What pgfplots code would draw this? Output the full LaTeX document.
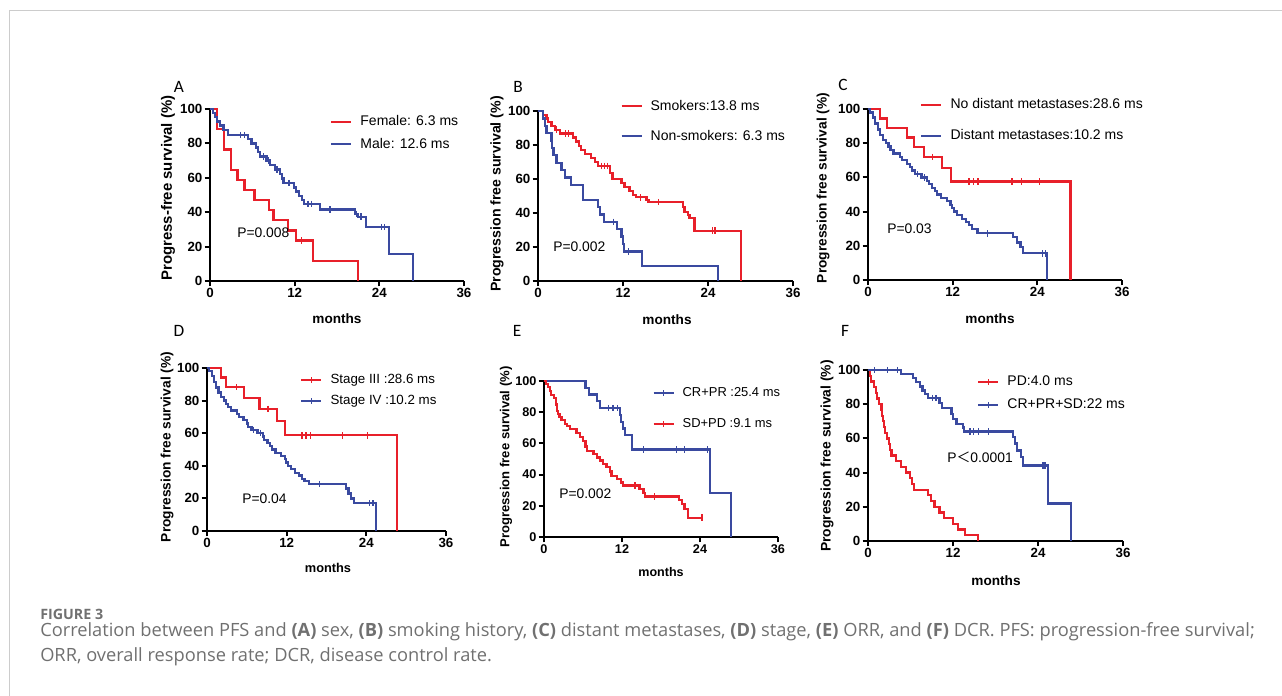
\documentclass[border=0pt]{standalone}
\usepackage{fontspec}
\setmainfont{Liberation Sans}
\newfontfamily\capfont{Open Sans}
\newfontfamily\letterfont{Carlito}
\newfontfamily\cjk{Noto Sans CJK SC}
\usepackage{pgfplots}
\pgfplotsset{compat=1.18}
\definecolor{kmred}{RGB}{232,32,42}
\definecolor{kmblue}{RGB}{58,74,160}
\definecolor{capgray}{RGB}{112,112,112}

\pgfplotsset{
  km/.style={
    scale only axis, axis lines=left, axis line style={-, line width=1.5pt},
    xmin=0, xmax=36, ymin=0, ymax=100,
    xtick={0,12,24,36}, ytick={0,20,...,100},
    tick align=outside, major tick length=4pt,
    tick style={line width=1.5pt, black},
    /pgf/number format/assume math mode=true,
    tick label style={font=\bfseries\fontsize{10}{11}\selectfont, inner sep=1.5pt},
    clip=false,
    legend cell align=left,
    legend style={draw=none, fill=none, inner sep=0pt, anchor=west,
      font=\fontsize{10.5}{12}\selectfont,
      nodes={inner sep=0pt, text height=8pt, text depth=2pt},
      column sep=6pt},
  },
  kmline/.style={const plot, line width=1.7pt, mark=none},
  cens/.style={only marks, mark=|, mark size=2.4pt, mark options={line width=0.9pt}, forget plot},
  leg line/.style={legend image code/.code={\draw[##1, mark=none] (0pt,0pt) -- (15pt,0pt);}},
  leg tick/.style={legend image code/.code={\draw[##1, mark=none] (0pt,0pt) -- (15pt,0pt);
      \draw[##1, mark=none, line width=0.9pt] (7.5pt,-2.2pt) -- (7.5pt,2.2pt);}},
}

\begin{document}
\begin{tikzpicture}
\begin{scope}[x=0.75pt, y=0.75pt]
\path[use as bounding box] (0,0) rectangle (1282,696);
\draw[black!20, line width=0.75pt] (9,0) -- (9,685) -- (1282,685);
\end{scope}

% ---------- A: sex
\begin{axis}[km, leg line, at={(157.5pt,311.25pt)}, anchor=south west, width=190.5pt, height=129pt,
  legend style={at={(0.472,0.861)}, row sep=6.7pt}]
\addplot[kmline, kmred] coordinates {(0,100)(0.95,88.2)(2.0,76.5)(3.0,64.7)(3.9,58.8)(4.9,52.9)(6.3,47.1)(8.4,41.2)(9.0,35.3)(11.1,29.4)(12.2,23.5)(14.6,11.8)(21.0,0)};
\addlegendentry{Female: 6.3 ms}
\addplot[cens, kmred] coordinates {(13.0,23.5)};
\addplot[kmline, kmblue] coordinates {(0,100)(0.4,97.6)(0.7,95.2)(1.0,92.8)(1.4,90.4)(1.9,88.0)(2.5,84.8)(5.4,82.4)(5.9,80.0)(6.5,77.6)(6.8,75.0)(7.1,72.4)(8.0,70.0)(8.5,67.4)(9.2,64.8)(9.9,62.2)(10.2,59.6)(10.4,57.0)(11.9,54.4)(12.2,52.0)(12.6,49.6)(13.0,47.2)(13.3,44.8)(15.6,41.6)(20.6,39.0)(21.0,37.4)(22.1,31.4)(25.4,15.7)(28.8,0)};
\addlegendentry{Male: 12.6 ms}
\addplot[cens, kmblue] coordinates {(4.3,84.8)(4.9,84.8)(7.6,72.4)(8.3,70.0)(9.5,64.8)(11.2,57.0)(13.9,44.8)(14.4,44.8)(17.0,41.6)(20.8,39.0)(21.4,37.4)(24.3,31.4)(24.7,31.4)};
\end{axis}

% ---------- B: smoking
\begin{axis}[km, leg line, at={(403.5pt,311.25pt)}, anchor=south west, width=191.25pt, height=127.5pt,
  legend style={at={(0.322,0.941)}, row sep=12.5pt}]
\addplot[kmline, kmred] coordinates {(0,100)(0.7,97.8)(1.2,95.6)(1.4,93.4)(1.9,91.2)(2.4,89.0)(3.1,86.8)(4.9,84.4)(5.4,82.0)(5.8,79.6)(6.1,77.2)(6.6,74.8)(7.5,72.4)(8.0,70.0)(8.5,67.8)(10.2,63.6)(10.5,59.8)(11.8,57.6)(12.2,55.4)(12.9,53.0)(13.4,50.6)(13.8,49.2)(15.3,47.8)(15.6,46.4)(20.5,43.6)(20.7,40.8)(21.2,38.8)(21.4,37.2)(22.1,29.6)(28.7,0)};
\addlegendentry{Smokers:13.8 ms}
\addplot[cens, kmred] coordinates {(2.6,89.0)(3.9,86.8)(4.3,86.8)(9.0,67.8)(9.4,67.8)(9.8,67.8)(14.5,49.2)(17.0,46.4)(24.6,29.6)(25.0,29.6)};
\addplot[kmline, kmblue] coordinates {(0,100)(0.7,95.6)(0.95,91.3)(1.2,87.0)(1.9,82.6)(2.0,78.3)(2.2,73.9)(2.6,69.6)(3.3,65.2)(3.8,60.9)(4.7,56.5)(6.35,47.8)(8.5,43.5)(8.8,39.1)(9.3,34.8)(11.2,30.4)(11.8,26.1)(12.0,21.7)(12.1,17.4)(14.7,8.7)(25.4,0)};
\addlegendentry{Non-smokers: 6.3 ms}
\addplot[cens, kmblue] coordinates {(10.7,34.8)(12.8,17.4)};
\end{axis}

% ---------- C: distant metastases
\begin{axis}[km, leg line, at={(651pt,312pt)}, anchor=south west, width=190.5pt, height=128.25pt,
  legend style={at={(0.205,0.933)}, row sep=13.25pt}]
\addplot[kmline, kmred] coordinates {(0,100)(1.75,94.4)(2.7,88.9)(5.5,83.3)(6.5,77.8)(7.9,71.9)(10.5,65.4)(11.8,57.6)(28.7,0)};
\addlegendentry{No distant metastases:28.6 ms}
\addplot[cens, kmred] coordinates {(9.1,71.9)(14.3,57.6)(15.0,57.6)(15.6,57.6)(20.4,57.6)(21.8,57.6)(24.3,57.6)};
\addplot[kmline, kmblue] coordinates {(0,100)(0.33,98)(0.7,95)(1.0,91.5)(1.4,88)(1.75,85)(2.1,82)(2.6,80)(2.9,78)(3.2,76)(3.6,74)(4.5,72)(4.8,70)(5.5,68)(6.0,66)(6.2,64)(6.7,62)(7.6,60)(8.4,58)(8.6,56)(9.1,54)(9.5,52)(9.8,50)(10.3,48)(11.2,46)(11.7,44)(11.9,42)(12.2,40)(12.6,38)(13.3,35.7)(13.9,34)(14.3,32)(14.7,30)(15.5,27.3)(20.6,25)(21.1,22)(21.6,19.5)(22.0,15.6)(25.4,0)};
\addlegendentry{Distant metastases:10.2 ms}
\addplot[cens, kmblue] coordinates {(7.0,62)(8.0,60)(16.9,27.3)(24.7,15.6)(25.1,15.6)};
\end{axis}

% ---------- D: stage
\begin{axis}[km, leg tick, at={(155.25pt,123.75pt)}, anchor=south west, width=179.25pt, height=122.25pt,
  legend style={at={(0.389,0.862)}, row sep=5.75pt, font=\fontsize{10}{12}\selectfont}]
\addplot[kmline, kmred] coordinates {(0,100)(2.1,94.1)(2.9,88.2)(5.6,81.6)(7.9,74.9)(10.5,67.3)(11.8,58.7)(28.6,0)};
\addlegendentry{Stage III :28.6 ms}
\addplot[cens, kmred] coordinates {(4.4,88.2)(9.2,74.9)(14.3,58.7)(14.9,58.7)(15.6,58.7)(20.4,58.7)(24.2,58.7)};
\addplot[kmline, kmblue] coordinates {(0,100)(0.33,98)(0.7,95)(1.0,91.5)(1.4,88)(1.75,85)(2.1,82)(2.6,80)(2.9,78)(3.2,76)(3.6,74)(4.5,72)(4.8,70)(5.5,68)(6.0,66)(6.2,64)(6.7,62)(7.6,60)(8.4,58)(8.6,56)(9.1,54)(9.5,52)(9.8,50)(10.3,48)(11.2,46)(11.7,44)(11.9,42)(12.2,40)(12.6,38)(13.3,35.7)(13.9,34)(14.3,32)(14.7,30.5)(15.4,28.8)(20.9,26)(21.3,23)(21.7,20)(22.1,17.0)(25.5,0)};
\addlegendentry{Stage IV :10.2 ms}
\addplot[cens, kmblue] coordinates {(7.0,62)(8.0,60)(16.9,28.8)(24.5,17.0)(25.0,17.0)};
\end{axis}

% ---------- E: ORR
\begin{axis}[km, leg tick, at={(408pt,119.25pt)}, anchor=south west, width=175.5pt, height=117pt,
  tick label style={font=\bfseries\fontsize{9.5}{10}\selectfont},
  legend style={at={(0.462,0.824)}, row sep=13.25pt, font=\fontsize{9.7}{12}\selectfont}]
\addplot[kmline, kmblue] coordinates {(0,100)(6.4,95.7)(6.9,91.3)(8.1,87.0)(8.6,82.6)(11.7,78.3)(11.9,73.9)(12.1,69.6)(12.5,65.2)(13.5,56.1)(25.5,28.1)(28.8,0)};
\addlegendentry{CR+PR :25.4 ms}
\addplot[cens, kmblue] coordinates {(9.9,82.6)(10.6,82.6)(11.3,82.6)(15.3,56.1)(20.4,56.1)(21.6,56.1)(25.1,56.1)};
\addplot[kmline, kmred] coordinates {(0,100)(0.36,98)(0.62,96)(0.87,93.5)(1.13,91)(1.5,89)(1.9,85)(2.0,81)(2.2,79)(2.4,77)(2.7,75)(3.2,72.5)(3.55,71)(4.0,69)(5.0,66.5)(5.5,64)(6.0,61.5)(6.4,58)(6.6,55)(7.6,53)(8.1,51)(8.6,49)(9.1,47)(9.6,45)(10.1,42)(10.4,39)(11.2,37)(11.9,35)(12.2,33)(14.7,31)(15.3,28)(15.5,26)(20.8,23.5)(21.2,21)(21.6,18)(22.1,12.4)(24.5,12.4)};
\addlegendentry{SD+PD :9.1 ms}
\addplot[cens, kmred] coordinates {(14.0,33)(17.0,26)(24.3,12.4)};
\end{axis}

% ---------- F: DCR
\begin{axis}[km, leg tick, at={(651pt,116.25pt)}, anchor=south west, width=191.25pt, height=128.25pt,
  legend style={at={(0.427,0.863)}, row sep=7.25pt}]
\addplot[kmline, kmred] coordinates {(0,100)(0.24,96.7)(0.47,93.3)(0.8,90)(1.1,86.7)(1.3,83.3)(1.5,80)(1.9,76.7)(2.0,73.3)(2.1,70)(2.3,66.7)(2.4,63.3)(2.7,60)(3.0,56.7)(3.15,53.3)(3.3,50)(4.0,46.7)(4.7,43.3)(5.4,40)(5.9,36.7)(6.2,33.3)(6.45,30)(8.5,26.7)(8.85,23.3)(9.4,20)(10.1,16.7)(10.7,13.3)(12.0,10)(12.7,6.7)(13.65,3.3)(15.5,0)};
\addlegendentry{PD:4.0 ms}
\addplot[kmline, kmblue] coordinates {(0,100)(4.7,97.6)(6.3,95.2)(6.8,92.8)(7.3,90.4)(7.7,88)(8.0,86)(8.5,83.6)(10.1,80.8)(10.4,77.6)(11.8,74.4)(12.0,71.2)(12.5,68.6)(13.4,66.4)(13.6,64.1)(20.5,61)(20.8,57)(21.0,53)(21.6,49)(21.9,44.1)(25.4,22)(28.7,0)};
\addlegendentry{CR+PR+SD:22 ms}
\addplot[cens, kmblue] coordinates {(0.9,100)(2.8,100)(4.2,100)(9.1,83.6)(9.6,83.6)(14.4,64.1)(14.9,64.1)(15.6,64.1)(17.0,64.1)(24.7,44.1)(25.0,44.1)};
\end{axis}

\begin{scope}[x=0.75pt, y=0.75pt]
% ---------- panel letters
\begin{scope}[font=\letterfont\fontsize{13}{14}\selectfont]
\node at (179,609) {A};
\node at (518,609) {B};
\node at (843,611) {C};
\node at (179,365) {D};
\node at (517,365) {E};
\node at (845,365) {F};
\end{scope}

% ---------- y labels
\node[rotate=90, font=\bfseries\fontsize{11.2}{12}\selectfont] at (168,508) {Progress-free survival (\%)};
\node[rotate=90, font=\bfseries\fontsize{10.6}{12}\selectfont] at (497,502) {Progression free survival (\%)};
\node[rotate=90, font=\bfseries\fontsize{10.3}{12}\selectfont] at (823,508) {Progression free survival (\%)};
\node[rotate=90, font=\bfseries\fontsize{10.3}{12}\selectfont] at (167,249) {Progression free survival (\%)};
\node[rotate=90, font=\bfseries\fontsize{9.8}{12}\selectfont] at (506,239) {Progression free survival (\%)};
\node[rotate=90, font=\bfseries\fontsize{10.4}{12}\selectfont] at (827,240) {Progression free survival (\%)};

% ---------- x labels
\node[font=\bfseries\fontsize{10.2}{12}\selectfont] at (337,377) {months};
\node[font=\bfseries\fontsize{10.2}{12}\selectfont] at (667,376) {months};
\node[font=\bfseries\fontsize{10.2}{12}\selectfont] at (990,377) {months};
\node[font=\bfseries\fontsize{9.6}{12}\selectfont] at (328,128) {months};
\node[font=\bfseries\fontsize{9.4}{12}\selectfont] at (661,124) {months};
\node[font=\bfseries\fontsize{10.2}{12}\selectfont] at (996,115) {months};

% ---------- p values
\begin{scope}[font=\fontsize{10.4}{12}\selectfont, inner sep=0pt]
\node[anchor=west] at (237,463) {P=0.008};
\node[anchor=west] at (553,449) {P=0.002};
\node[anchor=west] at (887,467) {P=0.03};
\node[anchor=west] at (242,197) {P=0.04};
\node[anchor=west] at (559,202) {P=0.002};
\node[anchor=west] at (947,239) {P{\cjk ＜}0.0001};
\end{scope}

% ---------- caption
\node[anchor=base west, inner sep=0pt, text=capgray, font=\capfont\bfseries\fontsize{10.7}{12}\selectfont] at (40,76) {FIGURE 3};
\begin{scope}[text=capgray, inner sep=0pt, font=\capfont\fontsize{13.7}{16}\selectfont]
\node[anchor=base west] at (40,59) {Correlation between PFS and \textbf{(A)} sex, \textbf{(B)} smoking history, \textbf{(C)} distant metastases, \textbf{(D)} stage, \textbf{(E)} ORR, and \textbf{(F)} DCR. PFS: progression-free survival;};
\node[anchor=base west] at (40,34) {ORR, overall response rate; DCR, disease control rate.};
\end{scope}
\end{scope}
\end{tikzpicture}
\end{document}
